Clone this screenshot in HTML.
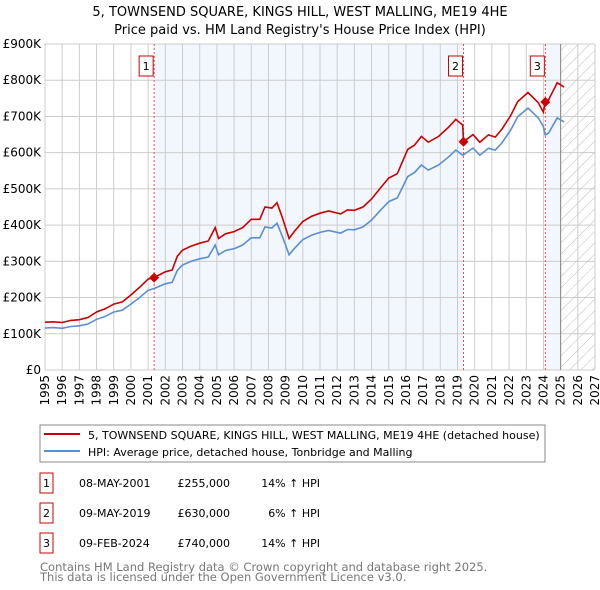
<!DOCTYPE html>
<html><head><meta charset="utf-8"><style>
body{margin:0;background:#fff;font-family:"Liberation Sans","DejaVu Sans",sans-serif;}
#wrap{position:relative;width:600px;height:590px;overflow:hidden}
svg text{font-family:"DejaVu Sans","Liberation Sans",sans-serif}
</style></head><body><div id="wrap">
<svg id="chart" width="600" height="590" xmlns="http://www.w3.org/2000/svg">
<defs><pattern id="hatch" width="8" height="8" patternUnits="userSpaceOnUse" patternTransform="rotate(45)"><line x1="0" y1="0" x2="0" y2="8" stroke="#bbb" stroke-width="1"/></pattern></defs>
<text x="300" y="16" text-anchor="middle" font-size="13">5, TOWNSEND SQUARE, KINGS HILL, WEST MALLING, ME19 4HE</text>
<text x="300" y="34" text-anchor="middle" font-size="13">Price paid vs. HM Land Registry's House Price Index (HPI)</text>
<g id="plot"></g>
<rect x="40" y="425" width="505" height="37" fill="#fff" stroke="#888"/>
<line x1="44" y1="434" x2="80" y2="434" stroke="#cc0000" stroke-width="2"/>
<text x="88" y="439" font-size="11">5, TOWNSEND SQUARE, KINGS HILL, WEST MALLING, ME19 4HE (detached house)</text>
<line x1="44" y1="451" x2="80" y2="451" stroke="#5b8fd4" stroke-width="2"/>
<text x="88" y="456" font-size="11">HPI: Average price, detached house, Tonbridge and Malling</text>
<g id="table" font-size="11"></g>
<text x="40" y="571" font-size="11.5" fill="#777">Contains HM Land Registry data © Crown copyright and database right 2025.</text>
<text x="40" y="581" font-size="11.5" fill="#777">This data is licensed under the Open Government Licence v3.0.</text>
</svg></div>
<script>
const dates=[1995.0,1995.5,1996.0,1996.5,1997.0,1997.5,1998.0,1998.5,1999.0,1999.5,2000.0,2000.5,2001.0,2001.35,2002.0,2002.4,2002.7,2003.0,2003.5,2004.0,2004.5,2004.9,2005.1,2005.5,2006.0,2006.5,2007.0,2007.5,2007.8,2008.2,2008.5,2008.8,2009.2,2009.5,2010.0,2010.5,2011.0,2011.5,2012.2,2012.6,2013.0,2013.5,2014.0,2014.5,2015.0,2015.5,2016.1,2016.5,2016.9,2017.3,2017.9,2018.5,2018.9,2019.3,2019.35,2019.9,2020.3,2020.8,2021.2,2021.6,2022.1,2022.5,2023.1,2023.7,2024.0,2024.1,2024.3,2024.8,2025.2];
const hpiValues=[116,117,115,120,122,127,140,148,160,165,182,200,220,225,238,242,275,290,300,307,312,345,318,330,335,345,365,365,395,392,405,370,318,335,360,372,380,385,378,388,387,395,414,440,465,475,534,545,566,552,566,589,607,593,594,613,593,612,607,628,663,699,723,696,672,649,654,696,685];
const priceValues=[132,133,131,137,139,145,160,169,182,188,207,228,251,255,271,276,314,331,342,350,356,393,363,376,382,393,416,416,450,447,462,422,363,382,410,424,433,439,431,442,441,450,472,502,530,542,609,621,645,629,645,671,692,676,630,650,629,649,643,666,703,741,766,738,712,740,746,793,781];
const saleDates=[2001.35,2019.35,2024.11];
const saleValues=[255,630,740];
const saleLabels=["1","2","3"];
const saleDateText=["08-MAY-2001","09-MAY-2019","09-FEB-2024"];
const salePriceText=["£255,000","£630,000","£740,000"];
const saleHpiText=["14% ↑ HPI","6% ↑ HPI","14% ↑ HPI"];
const yTicks=[0,100,200,300,400,500,600,700,800,900];
const yTickLabels=["£0","£100K","£200K","£300K","£400K","£500K","£600K","£700K","£800K","£900K"];
const xYears=[1995,1996,1997,1998,1999,2000,2001,2002,2003,2004,2005,2006,2007,2008,2009,2010,2011,2012,2013,2014,2015,2016,2017,2018,2019,2020,2021,2022,2023,2024,2025,2026,2027];
const dataEnd=2025.0;

const NS="http://www.w3.org/2000/svg";
const L=45,R=595,T=44,B=370;
const X=y=>L+(y-1995)/(2027-1995)*(R-L);
const Y=v=>B-v/900*(B-T);
const plot=document.getElementById('plot');
function mk(tag,attrs,parent){const e=document.createElementNS(NS,tag);for(const k in attrs)e.setAttribute(k,attrs[k]);(parent||plot).appendChild(e);return e;}

let e;
e=mk('rect',{x:X(saleDates[0]),y:T,width:X(saleDates[1])-X(saleDates[0]),height:B-T,fill:'#f2f6fd'});


e=mk('rect',{x:X(saleDates[2]),y:T,width:X(dataEnd)-X(saleDates[2]),height:B-T,fill:'#f2f6fd'});


e=mk('rect',{x:X(dataEnd),y:T,width:R-X(dataEnd),height:B-T,fill:'url(#hatch)'});



yTicks.forEach((v,i)=>{
  e=mk('line',{x1:L,x2:R,y1:Y(v),y2:Y(v),stroke:'#ccc','stroke-width':1});
  
  
  e=mk('text',{x:L-4,y:Y(v)+4,'text-anchor':'end','font-size':12});
  e.textContent=yTickLabels[i];
  
  
});
xYears.forEach(yr=>{
  e=mk('line',{x1:X(yr),x2:X(yr),y1:T,y2:B,stroke:'#ccc','stroke-width':1});
  
  
  const tx=X(yr)+4, ty=B+5;
  e=mk('text',{x:tx,y:ty,'text-anchor':'end','font-size':12,transform:`rotate(-90 ${tx} ${ty})`});
  e.textContent=yr;
  
  
});
e=mk('line',{x1:X(dataEnd),x2:X(dataEnd),y1:T,y2:B,stroke:'#888','stroke-width':1});



saleDates.forEach((d,i)=>{
  e=mk('line',{x1:X(d),x2:X(d),y1:T,y2:B,stroke:'#e05050','stroke-width':1,'stroke-dasharray':'2,2'});
  
  
  e=mk('rect',{x:X(d)-15,y:56,width:14,height:20,fill:'#fff',stroke:'#cc0000'});
  
  
  e=mk('text',{x:X(d)-8,y:70,'text-anchor':'middle','font-size':11});
  e.textContent=saleLabels[i];
  
  
});

const pts=a=>a.map((v,i)=>X(dates[i]).toFixed(1)+','+Y(v).toFixed(1)).join(' ');
e=mk('polyline',{points:pts(hpiValues),fill:'none',stroke:'#5b8fd4','stroke-width':1.6});


e=mk('polyline',{points:pts(priceValues),fill:'none',stroke:'#cc0000','stroke-width':1.6});


saleDates.forEach((d,i)=>{
  const cx=X(d),cy=Y(saleValues[i]);
  e=mk('polygon',{points:`${cx},${cy-5} ${cx+5},${cy} ${cx},${cy+5} ${cx-5},${cy}`,fill:'#cc0000'});
  
  
});

const tb=document.getElementById('table');
saleLabels.forEach((l,i)=>{
  const cy=483+i*30;
  e=mk('rect',{x:40,y:cy-10,width:13,height:20,fill:'#fff',stroke:'#cc0000'},tb);
  
  
  e=mk('text',{x:46.5,y:cy+4,'text-anchor':'middle'},tb);e.textContent=l;
  
  
  e=mk('text',{x:79,y:cy+4},tb);e.textContent=saleDateText[i];
  
  
  e=mk('text',{x:230,y:cy+4,'text-anchor':'end'},tb);e.textContent=salePriceText[i];
  
  
  e=mk('text',{x:320,y:cy+4,'text-anchor':'end'},tb);e.textContent=saleHpiText[i];
  
  
});
</script></body></html>
